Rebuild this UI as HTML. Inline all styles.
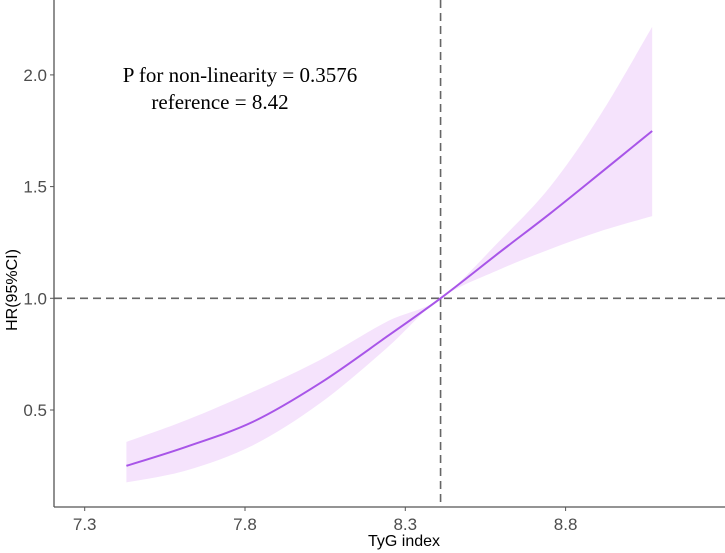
<!DOCTYPE html>
<html><head><meta charset="utf-8"><style>
body{margin:0;background:#fff}
svg{display:block;font-family:"Liberation Sans",sans-serif}
</style></head><body>
<svg id="chart" width="725" height="553">
<g id="band"></g>
<g id="lines"></g>
<g id="axes"></g>
<text x="240" y="82" text-anchor="middle" font-family="Liberation Serif,serif" font-size="21" fill="#000">P for non-linearity = 0.3576</text>
<text x="220" y="109" text-anchor="middle" font-family="Liberation Serif,serif" font-size="21" fill="#000">reference = 8.42</text>
<text x="404" y="546" text-anchor="middle" font-size="16" fill="#000">TyG index</text>
<text transform="translate(17,290) rotate(-90)" text-anchor="middle" font-size="16" fill="#000">HR(95%CI)</text>
</svg>
<script>
const xs=[7.43,7.618,7.826,8.034,8.242,8.41,8.596,8.752,8.908,9.07];
const hr=[0.25,0.336,0.448,0.62,0.828,1.0,1.208,1.38,1.56,1.749];
const upper=[0.357,0.455,0.582,0.724,0.895,1.0,1.26,1.50,1.82,2.215];
const lower=[0.176,0.23,0.343,0.53,0.777,1.0,1.13,1.22,1.30,1.368];
const xTicks=[7.3,7.8,8.3,8.8];
const yTicks=[0.5,1.0,1.5,2.0];
const refX=8.41, refY=1.0;
const NS="http://www.w3.org/2000/svg";
const X=v=>84.7+(v-7.3)*320.6;
const Y=v=>298.3-(v-1)*223.4;
const L=54,B=507,R=725,T=0;
function mk(t,a,p){const e=document.createElementNS(NS,t);for(const k in a)e.setAttribute(k,a[k]);(p||document.getElementById('chart')).appendChild(e);return e;}
function smooth(pts,start){let d=(start?'M':'L')+pts[0][0]+','+pts[0][1];
for(let i=0;i<pts.length-1;i++){const p0=pts[Math.max(0,i-1)],p1=pts[i],p2=pts[i+1],p3=pts[Math.min(pts.length-1,i+2)];
const c1=[p1[0]+(p2[0]-p0[0])/6,p1[1]+(p2[1]-p0[1])/6],c2=[p2[0]-(p3[0]-p1[0])/6,p2[1]-(p3[1]-p1[1])/6];
d+='C'+c1+' '+c2+' '+p2;}return d;}
const up=xs.map((x,i)=>[X(x),Y(upper[i])]);
const lo=xs.map((x,i)=>[X(x),Y(lower[i])]).reverse();
const band=mk('path',{d:smooth(up,true)+smooth(lo,false)+'Z',fill:'#f5e3fc',stroke:'none'},document.getElementById('band'));


const lg=document.getElementById('lines');
const h=mk('line',{x1:L,x2:R,y1:Y(refY),y2:Y(refY),stroke:'#666','stroke-width':1.6,'stroke-dasharray':'8,5'},lg);


const v=mk('line',{x1:X(refX),x2:X(refX),y1:T,y2:B,stroke:'#666','stroke-width':1.6,'stroke-dasharray':'8,5'},lg);


const pl=mk('path',{d:smooth(xs.map((x,i)=>[X(x),Y(hr[i])]),true),fill:'none',stroke:'#a855e8','stroke-width':2},lg);


const ax=document.getElementById('axes');
const xl=mk('line',{x1:L,x2:R,y1:B,y2:B,stroke:'#555','stroke-width':1.3},ax);


const yl=mk('line',{x1:L,x2:L,y1:T,y2:B,stroke:'#555','stroke-width':1.3},ax);


xTicks.forEach(t=>{mk('line',{x1:X(t),x2:X(t),y1:B,y2:B+4,stroke:'#555'},ax);
const tx=mk('text',{x:X(t),y:B+23,'text-anchor':'middle','font-size':17,fill:'#4d4d4d'},ax);tx.textContent=t.toFixed(1);

});
yTicks.forEach(t=>{mk('line',{x1:L-4,x2:L,y1:Y(t),y2:Y(t),stroke:'#555'},ax);
const tx=mk('text',{x:L-7,y:Y(t)+6,'text-anchor':'end','font-size':17,fill:'#4d4d4d'},ax);tx.textContent=t.toFixed(1);

});
</script>
</body></html>
